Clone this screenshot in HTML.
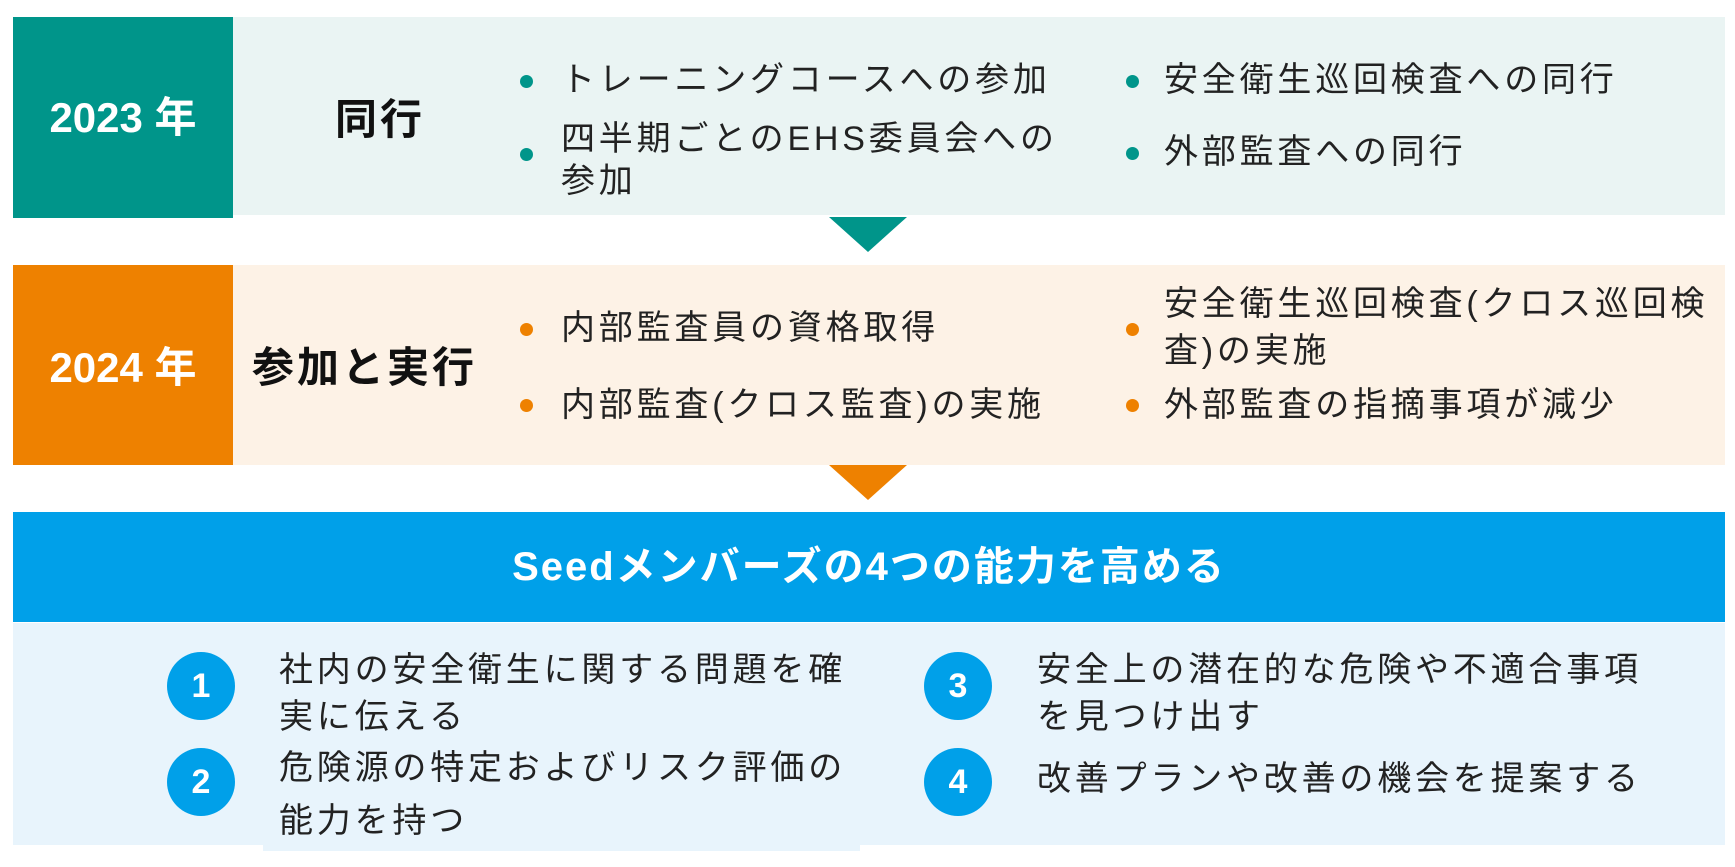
<!DOCTYPE html>
<html><head><meta charset="utf-8"><style>
body{margin:0;width:1735px;height:867px;background:#fff;position:relative;overflow:hidden;font-family:"Liberation Sans","Noto Sans CJK JP",sans-serif;}
div{position:absolute;box-sizing:border-box;}
.t{font-size:34px;letter-spacing:3.8px;color:#222;line-height:43px;white-space:nowrap;}
.dot{width:13px;height:13px;border-radius:50%;}
.yr{color:#fff;font-size:42px;text-align:center;line-height:42px;font-weight:bold;}
.ttl{font-size:42px;font-weight:bold;letter-spacing:3px;color:#111;white-space:nowrap;line-height:46px;}
.c{width:68px;height:68px;border-radius:50%;background:#00a0e9;color:#fff;font-weight:bold;font-size:34px;text-align:center;line-height:68px;}
</style></head><body>
<!-- row 1 -->
<div style="left:13px;top:17px;width:220px;height:201px;background:#00958a"></div>
<div style="left:233px;top:17px;width:1492px;height:198px;background:#eaf4f3"></div>
<div class="yr" style="left:13px;top:97px;width:220px">2023 年</div>
<div class="ttl" style="left:335px;top:97px">同行</div>
<div class="dot" style="left:520px;top:75px;background:#00958a"></div>
<div class="t" style="left:561px;top:59px">トレーニングコースへの参加</div>
<div class="dot" style="left:520px;top:148px;background:#00958a"></div>
<div class="t" style="left:561px;top:118px;line-height:42px">四半期ごとのEHS委員会への<br>参加</div>
<div class="dot" style="left:1126px;top:75px;background:#00958a"></div>
<div class="t" style="left:1164px;top:59px">安全衛生巡回検査への同行</div>
<div class="dot" style="left:1126px;top:147px;background:#00958a"></div>
<div class="t" style="left:1164px;top:131px">外部監査への同行</div>
<svg style="position:absolute;left:829px;top:217px" width="78" height="36"><polygon points="0,0 78,0 39,35" fill="#00958a"/></svg>
<!-- row 2 -->
<div style="left:13px;top:265px;width:220px;height:200px;background:#ee8100"></div>
<div style="left:233px;top:265px;width:1492px;height:200px;background:#fdf2e6"></div>
<div class="yr" style="left:13px;top:347px;width:220px">2024 年</div>
<div class="ttl" style="left:252px;top:345px">参加と実行</div>
<div class="dot" style="left:520px;top:323px;background:#ee8100"></div>
<div class="t" style="left:561px;top:307px">内部監査員の資格取得</div>
<div class="dot" style="left:520px;top:399px;background:#ee8100"></div>
<div class="t" style="left:561px;top:384px">内部監査(クロス監査)の実施</div>
<div class="dot" style="left:1126px;top:323px;background:#ee8100"></div>
<div class="t" style="left:1164px;top:281px;line-height:47px">安全衛生巡回検査(クロス巡回検<br>査)の実施</div>
<div class="dot" style="left:1126px;top:399px;background:#ee8100"></div>
<div class="t" style="left:1164px;top:384px">外部監査の指摘事項が減少</div>
<svg style="position:absolute;left:829px;top:465px" width="78" height="36"><polygon points="0,0 78,0 39,35" fill="#ee8100"/></svg>
<!-- row 3 -->
<div style="left:13px;top:512px;width:1712px;height:110px;background:#00a0e9"></div>
<div style="left:13px;top:544px;width:1712px;text-align:center;color:#fff;font-weight:bold;font-size:40px;letter-spacing:2px;line-height:46px">Seedメンバーズの4つの能力を高める</div>
<div style="left:13px;top:623px;width:1712px;height:222px;background:#e8f4fc"></div>
<div style="left:263px;top:840px;width:597px;height:11px;background:#e8f4fc"></div>
<div class="c" style="left:167px;top:652px">1</div>
<div class="c" style="left:167px;top:748px">2</div>
<div class="c" style="left:924px;top:652px">3</div>
<div class="c" style="left:924px;top:748px">4</div>
<div class="t" style="left:279px;top:647px;line-height:47px">社内の安全衛生に関する問題を確<br>実に伝える</div>
<div class="t" style="left:279px;top:742px;line-height:53px">危険源の特定およびリスク評価の<br>能力を持つ</div>
<div class="t" style="left:1037px;top:647px;line-height:47px">安全上の潜在的な危険や不適合事項<br>を見つけ出す</div>
<div class="t" style="left:1037px;top:758px">改善プランや改善の機会を提案する</div>
</body></html>
